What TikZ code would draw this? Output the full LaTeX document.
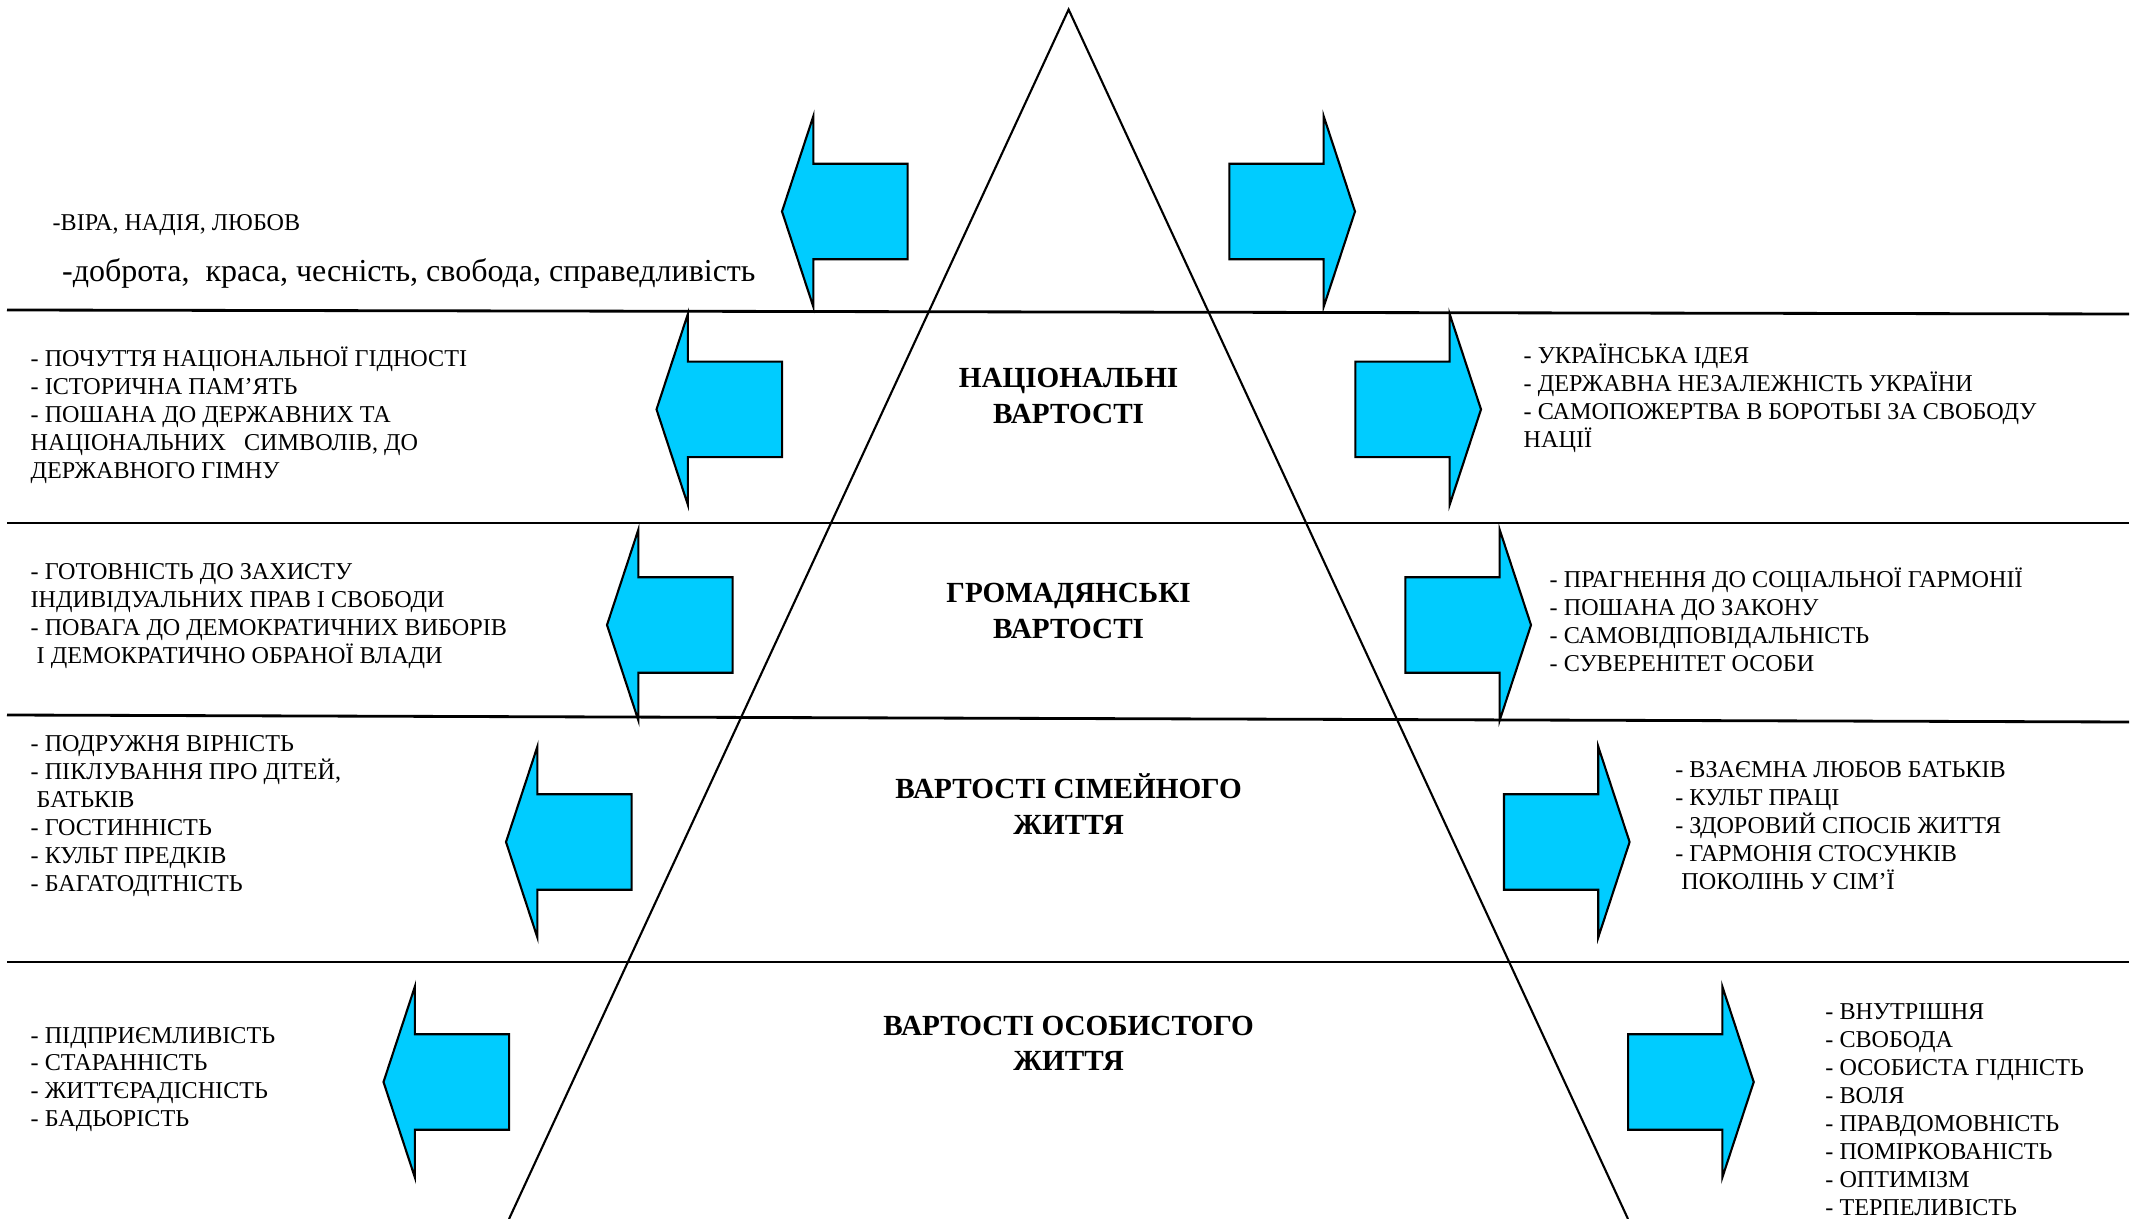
\documentclass[tikz,border=0pt]{standalone}
\usepackage{fontspec}
\setmainfont{Liberation Serif}
\usepackage{tikz}
\usetikzlibrary{positioning}

\definecolor{arrowblue}{RGB}{0,204,255}

\tikzset{
  valarrow/.style={draw=black, line width=0.6pt, fill=arrowblue, line join=miter},
  sepline/.style={line width=0.8pt},
  vallist/.style={anchor=west, align=left, inner sep=0pt, font=\fontsize{6.87}{7.95}\selectfont},
  valtitle/.style={align=center, inner sep=0pt, font=\bfseries\fontsize{8.3}{10.1}\selectfont}
}

\begin{document}
\begin{tikzpicture}[x=0.01cm, y=-0.01cm]
    \useasboundingbox (0,0) rectangle (2140,1219);

    % pyramid
    \draw[line width=0.6pt] (509,1219) -- (1068.6,9.5) -- (1628,1219);

    % level lines
    \draw[sepline] (7,310) -- (2129,314);
    \draw[sepline] (7,523) -- (2129,523);
    \draw[sepline] (7,715) -- (2129,722);
    \draw[sepline] (7,962) -- (2129,962);

    % arrows (left tip / right tip / height)
    \foreach \lx/\rx/\y in {782/1355/211.5, 656.5/1481/409.4, 607/1531/625, 506/1629.6/842, 383.5/1753.7/1082} {
      \draw[valarrow] (\lx,\y) -- ++(31.4,-95.5) -- ++(0,47.75) -- ++(94.2,0) -- ++(0,95.5) -- ++(-94.2,0) -- ++(0,47.75) -- cycle;
      \draw[valarrow] (\rx,\y) -- ++(-31.4,-95.5) -- ++(0,47.75) -- ++(-94.2,0) -- ++(0,95.5) -- ++(94.2,0) -- ++(0,47.75) -- cycle;
    }

    % top
    \node[anchor=west, inner sep=0pt, font=\fontsize{6.85}{8}\selectfont] (faith) at (52,225) {-ВІРА, НАДІЯ, ЛЮБОВ};
    \node[anchor=west, inner sep=0pt, font=\fontsize{9.1}{10}\selectfont] (virtues) at (61.4,273) {-доброта,\ \ краса, чесність, свобода, справедливість};

    % national
    \node[valtitle] (nat) at (1068.6,396) {НАЦІОНАЛЬНІ\\ВАРТОСТІ};
    \node[vallist] (natL) at (30,415) {- ПОЧУТТЯ НАЦІОНАЛЬНОЇ ГІДНОСТІ\\- ІСТОРИЧНА ПАМ’ЯТЬ\\- ПОШАНА ДО ДЕРЖАВНИХ ТА\\НАЦІОНАЛЬНИХ\ \ \ СИМВОЛІВ, ДО\\ДЕРЖАВНОГО ГІМНУ};
    \node[vallist] (natR) at (1523,398.5) {- УКРАЇНСЬКА ІДЕЯ\\- ДЕРЖАВНА НЕЗАЛЕЖНІСТЬ УКРАЇНИ\\- САМОПОЖЕРТВА В БОРОТЬБІ ЗА СВОБОДУ\\НАЦІЇ};

    % civic
    \node[valtitle] (civ) at (1068.6,611) {ГРОМАДЯНСЬКІ\\ВАРТОСТІ};
    \node[vallist] (civL) at (30,616) {- ГОТОВНІСТЬ ДО ЗАХИСТУ\\ІНДИВІДУАЛЬНИХ ПРАВ І СВОБОДИ\\- ПОВАГА ДО ДЕМОКРАТИЧНИХ ВИБОРІВ\\\hspace*{0.25em}І ДЕМОКРАТИЧНО ОБРАНОЇ ВЛАДИ};
    \node[vallist] (civR) at (1549,620) {- ПРАГНЕННЯ ДО СОЦІАЛЬНОЇ ГАРМОНІЇ\\- ПОШАНА ДО ЗАКОНУ\\- САМОВІДПОВІДАЛЬНІСТЬ\\- СУВЕРЕНІТЕТ ОСОБИ};

    % family
    \node[valtitle] (fam) at (1068.6,804) {ВАРТОСТІ СІМЕЙНОГО\\ЖИТТЯ};
    \node[vallist] (famL) at (30,816) {- ПОДРУЖНЯ ВІРНІСТЬ\\- ПІКЛУВАННЯ ПРО ДІТЕЙ,\\\hspace*{0.25em}БАТЬКІВ\\- ГОСТИННІСТЬ\\- КУЛЬТ ПРЕДКІВ\\- БАГАТОДІТНІСТЬ};
    \node[vallist] (famR) at (1674.6,826) {- ВЗАЄМНА ЛЮБОВ БАТЬКІВ\\- КУЛЬТ ПРАЦІ\\- ЗДОРОВИЙ СПОСІБ ЖИТТЯ\\- ГАРМОНІЯ СТОСУНКІВ\\\hspace*{0.25em}ПОКОЛІНЬ У СІМ’Ї};

    % personal
    \node[valtitle] (pers) at (1068.6,1043.5) {ВАРТОСТІ ОСОБИСТОГО\\ЖИТТЯ};
    \node[vallist] (persL) at (30,1079.5) {- ПІДПРИЄМЛИВІСТЬ\\- СТАРАННІСТЬ\\- ЖИТТЄРАДІСНІСТЬ\\- БАДЬОРІСТЬ};
    \node[vallist] (persR) at (1824.7,1110) {- ВНУТРІШНЯ\\- СВОБОДА\\- ОСОБИСТА ГІДНІСТЬ\\- ВОЛЯ\\- ПРАВДОМОВНІСТЬ\\- ПОМІРКОВАНІСТЬ\\- ОПТИМІЗМ\\- ТЕРПЕЛИВІСТЬ};
\end{tikzpicture}
\end{document}
